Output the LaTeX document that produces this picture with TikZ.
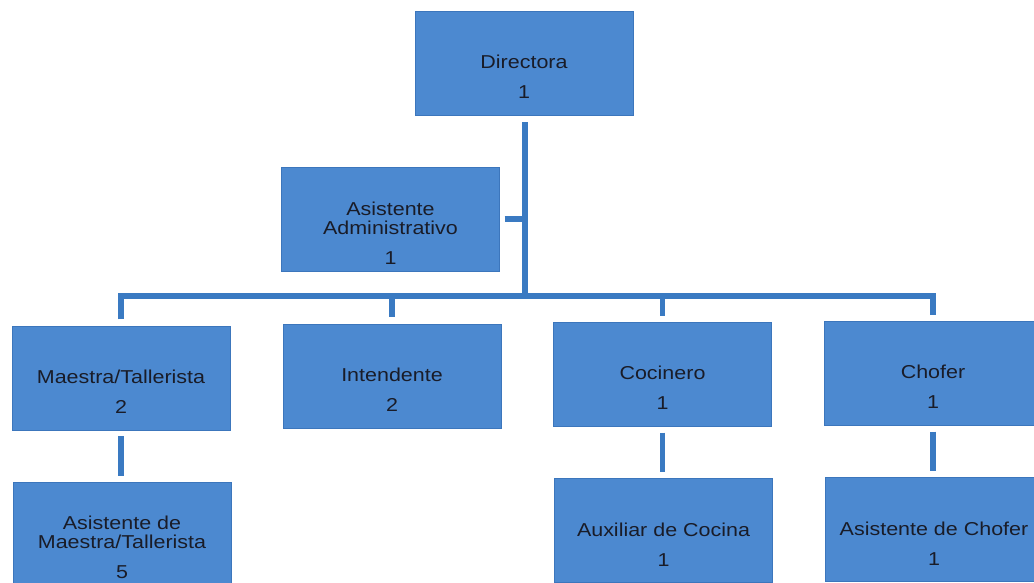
\documentclass[tikz,border=0pt]{standalone}
\usepackage{fontspec}
\setmainfont{Liberation Sans}[FakeStretch=1.15]
\definecolor{boxblue}{RGB}{76,137,208}
\definecolor{boxedge}{RGB}{60,118,188}
\definecolor{lineblue}{RGB}{58,122,194}
\definecolor{txtcol}{RGB}{25,28,40}
\begin{document}
\begin{tikzpicture}[x=0.75pt,y=-0.75pt,
  orgbox/.style={rectangle, fill=boxblue, draw=boxedge, line width=0.6pt,
    minimum width=163.5pt, minimum height=78pt, inner sep=0pt, outer sep=0pt},
  txt/.style={align=center, text=txtcol, inner sep=0pt,
    font=\fontsize{14}{14.25}\selectfont},
  conn/.style={draw=lineblue, line width=3.9pt}]
\useasboundingbox (0,0) rectangle (1034,582);
\clip (0,0) rectangle (1034,582);
\fill[white] (0,0) rectangle (1034,582);
% boxes
\node[orgbox] (dir) at (524,63) {};
\node[orgbox] (adm) at (390.5,219) {};
\node[orgbox] (mae) at (121,378) {};
\node[orgbox] (int) at (392,376) {};
\node[orgbox] (coc) at (662.5,374.5) {};
\node[orgbox] (cho) at (933,373.5) {};
\node[orgbox] (amae) at (122,534) {};
\node[orgbox] (aux) at (663.5,530) {};
\node[orgbox] (ach) at (934,529) {};
% texts
\node[txt] (tdir) at ([yshift=-10pt]dir.center) {Directora\\[8.25pt]1};
\node[txt] (tadm) at ([yshift=-11pt]adm.center) {Asistente\\Administrativo\\[8.25pt]1};
\node[txt] (tmae) at ([yshift=-10pt]mae.center) {Maestra/Tallerista\\[8.25pt]2};
\node[txt] (tint) at ([yshift=-10pt]int.center) {Intendente\\[8.25pt]2};
\node[txt] (tcoc) at ([yshift=-10pt]coc.center) {Cocinero\\[8.25pt]1};
\node[txt] (tcho) at ([yshift=-10pt]cho.center) {Chofer\\[8.25pt]1};
\node[txt] (tamae) at ([yshift=-10pt]amae.center) {Asistente de\\Maestra/Tallerista\\[8.25pt]5};
\node[txt] (taux) at ([yshift=-11pt]aux.center) {Auxiliar de Cocina\\[8.25pt]1};
\node[txt] (tach) at ([yshift=-11pt]ach.center) {Asistente de Chofer\\[8.25pt]1};
% connectors
\coordinate (bus) at (525,296);
\draw[conn, shorten <=5.25pt] ([xshift=0.75pt]dir.south) -- ([xshift=0.75pt]dir.south |- bus);
\draw[conn, shorten <=3.75pt] (adm.east) -- (adm.east -| bus);
\draw[conn, line join=miter, shorten <=5pt, shorten >=5pt]
  (mae.north) -- (mae.north |- bus) -- (cho.north |- bus) -- (cho.north);
\draw[conn, shorten >=5pt] (int.north |- bus) -- (int.north);
\draw[conn, shorten >=5pt] (coc.north |- bus) -- (coc.north);
\draw[conn, shorten <=4.5pt, shorten >=4.5pt] (mae.south) -- (mae.south |- amae.north);
\draw[conn, shorten <=4.5pt, shorten >=4.5pt] (coc.south) -- (coc.south |- aux.north);
\draw[conn, shorten <=4.5pt, shorten >=4.5pt] (cho.south) -- (cho.south |- ach.north);
\end{tikzpicture}
\end{document}
